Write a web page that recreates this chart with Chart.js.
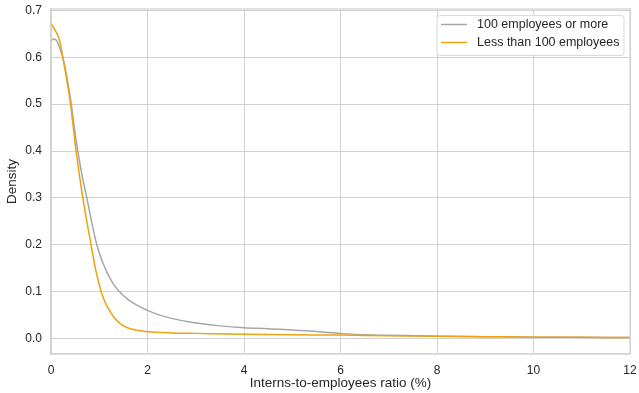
<!DOCTYPE html>
<html>
<head>
<meta charset="utf-8">
<script src="https://cdn.jsdelivr.net/npm/chart.js@4"></script>
<style>
  html, body { margin: 0; padding: 0; background: #fff; }
  #wrap { width: 639px; height: 393px; }
</style>
</head>
<body>
<div id="wrap"><canvas id="myChart" width="639" height="393"></canvas></div>
<script>
// kde curves
const bigX = [0, 0.06, 0.12, 0.18, 0.25, 0.33, 0.42, 0.488, 0.556, 0.65, 0.743, 0.85, 0.95, 1.075, 1.28, 1.42, 1.6, 1.8, 2.0, 2.25, 2.5, 2.94, 3.5, 4.0, 4.5, 5.0, 5.5, 6.0, 6.5, 7, 8, 9, 10, 11, 12];
const bigY = [0.636, 0.639, 0.635, 0.62, 0.598, 0.557, 0.5, 0.446, 0.4, 0.345, 0.3, 0.245, 0.2, 0.161, 0.118, 0.1, 0.083, 0.07, 0.06, 0.05, 0.043, 0.034, 0.027, 0.023, 0.021, 0.018, 0.015, 0.011, 0.008, 0.007, 0.005, 0.004, 0.003, 0.003, 0.002];

const smallX = [0, 0.18, 0.245, 0.405, 0.467, 0.52, 0.66, 0.83, 0.94, 1.04, 1.12, 1.2, 1.3, 1.42, 1.56, 1.75, 2.0, 2.5, 3, 4, 5, 6, 7, 8, 9, 10, 11, 12];
const smallY = [0.673, 0.635, 0.6, 0.5, 0.446, 0.4, 0.3, 0.2, 0.14, 0.1, 0.078, 0.062, 0.046, 0.033, 0.024, 0.018, 0.0145, 0.012, 0.011, 0.009, 0.008, 0.0075, 0.006, 0.005, 0.004, 0.003, 0.0025, 0.002];

const seriesLabels = ['100 employees or more', 'Less than 100 employees'];
const xTicks = [0, 2, 4, 6, 8, 10, 12];
const yTicks = [0, 0.1, 0.2, 0.3, 0.4, 0.5, 0.6, 0.7];

const GRID = '#d2d2d2';
const TEXT = '#262626';
const FONT = "'Liberation Sans', Arial, sans-serif";

function pts(xs, ys) {
    return xs.map((x, i) => ({x: x, y: ys[i]}));
}

// frame on top/right + legend box inside the plot
const framePlugin = {
    id: 'frame',
    afterDraw(chart) {
        const ctx = chart.ctx;
        const a = chart.chartArea;
        ctx.save();
        ctx.strokeStyle = GRID;
        ctx.lineWidth = 1.25;
        ctx.strokeRect(a.left, a.top, a.right - a.left, a.bottom - a.top);

        // legend
        const bx = 437, by = 15.5, bw = 187, bh = 40;
        ctx.fillStyle = 'rgba(255,255,255,0.8)';
        ctx.strokeStyle = '#d9d9d9';
        ctx.lineWidth = 1;
        ctx.beginPath();
        ctx.roundRect(bx, by, bw, bh, 3);
        ctx.fill();
        ctx.stroke();
        ctx.font = '12.5px ' + FONT;
        ctx.textBaseline = 'middle';
        chart.data.datasets.forEach((ds, i) => {
            const y = 24.5 + i * 18;
            ctx.strokeStyle = ds.borderColor;
            ctx.lineWidth = 1.5;
            ctx.beginPath();
            ctx.moveTo(441, y);
            ctx.lineTo(467, y);
            ctx.stroke();
            ctx.fillStyle = TEXT;
            ctx.fillText(ds.label, 477, y + 0.5);
        });
        ctx.restore();
    }
};

const config = {
    type: 'line',
    data: {
        datasets: [{
            label: seriesLabels[0],
            data: pts(bigX, bigY),
            borderColor: '#a6a6a6',
            borderWidth: 1.5,
            pointRadius: 0,
            cubicInterpolationMode: 'monotone',
            order: 1
        }, {
            label: seriesLabels[1],
            data: pts(smallX, smallY),
            borderColor: '#eea20e',
            borderWidth: 1.5,
            pointRadius: 0,
            cubicInterpolationMode: 'monotone',
            order: 0
        }]
    },
    options: {
        responsive: false,
        animation: false,
        layout: {
            padding: {top: 9, right: 9, left: 0, bottom: 0}
        },
        plugins: {
            legend: {display: false},
            tooltip: {enabled: false}
        },
        scales: {
            x: {
                type: 'linear',
                min: 0,
                max: 12,
                afterBuildTicks: (scale) => { scale.ticks = xTicks.map(v => ({value: v})); },
                afterFit: (scale) => {
                    scale.height = 39;
                    scale.paddingLeft = 0;
                    scale.paddingRight = 0;
                },
                grid: {color: GRID, lineWidth: 1, drawTicks: false},
                border: {color: GRID, width: 1.25},
                ticks: {
                    color: TEXT,
                    padding: 9,
                    maxRotation: 0,
                    font: {family: FONT, size: 12}
                },
                title: {
                    display: true,
                    text: 'Interns-to-employees ratio (%)',
                    color: TEXT,
                    padding: {top: 0, bottom: 2},
                    font: {family: FONT, size: 13.5}
                }
            },
            y: {
                type: 'linear',
                min: -0.033,
                max: 0.703,
                afterBuildTicks: (scale) => { scale.ticks = yTicks.map(v => ({value: v})); },
                afterFit: (scale) => {
                    scale.width = 51;
                    scale.paddingTop = 0;
                    scale.paddingBottom = 0;
                },
                grid: {color: GRID, lineWidth: 1, drawTicks: false},
                border: {color: GRID, width: 1.25},
                ticks: {
                    color: TEXT,
                    padding: 9,
                    font: {family: FONT, size: 12},
                    callback: (v) => v.toFixed(1)
                },
                title: {
                    display: true,
                    text: 'Density',
                    color: TEXT,
                    padding: {top: 4, bottom: 0},
                    font: {family: FONT, size: 13.5}
                }
            }
        }
    },
    plugins: [framePlugin]
};

const chart = new Chart(document.getElementById('myChart'), config);
</script>
</body>
</html>
